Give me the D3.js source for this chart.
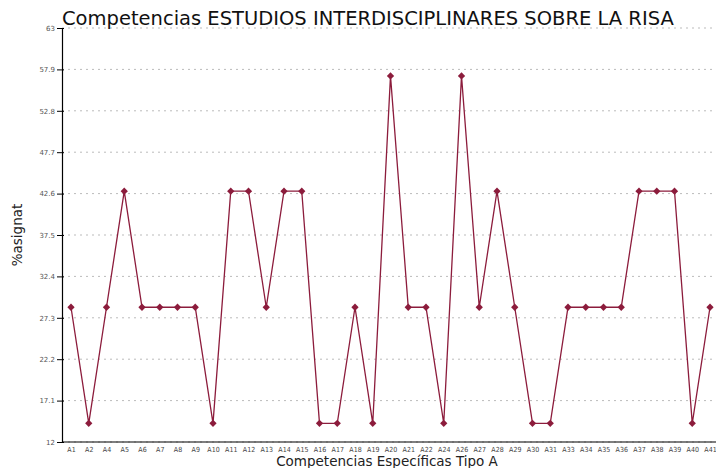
<!DOCTYPE html>
<html>
<head>
<meta charset="utf-8">
<script src="https://cdn.jsdelivr.net/npm/d3@7"></script>
<style>
  body { margin: 0; background: #fff; }
  svg { display: block; font-family: "DejaVu Sans", sans-serif; }
</style>
</head>
<body>
<div id="chart"></div>
<script>
// competencias (eje x)
var competencias = ["A1","A2","A4","A5","A6","A7","A8","A9","A10","A11","A12","A13","A14","A15",
  "A16","A17","A18","A19","A20","A21","A22","A24","A26","A27","A28","A29","A30","A31",
  "A33","A34","A35","A36","A37","A38","A39","A40","A41"];

// % asignaturas por competencia
var porcentajes = [28.6,14.3,28.6,42.9,28.6,28.6,28.6,28.6,14.3,42.9,42.9,28.6,42.9,42.9,
  14.3,14.3,28.6,14.3,57.1,28.6,28.6,14.3,57.1,28.6,42.9,28.6,14.3,14.3,
  28.6,28.6,28.6,28.6,42.9,42.9,42.9,14.3,28.6];

var yTicks = [12,17.1,22.2,27.3,32.4,37.5,42.6,47.7,52.8,57.9,63];

var width = 716, height = 468;
var margin = {top:28, right:0, bottom:26, left:62};
var color = "#8c1c3c";

var svg = d3.select("#chart").append("svg")
    .attr("width", width)
    .attr("height", height);

var x = d3.scalePoint()
    .domain(competencias)
    .range([71, 710]);

var y = d3.scaleLinear()
    .domain([12, 63])
    .range([height - margin.bottom, margin.top]);

// grid
svg.append("g")
  .selectAll("line")
  .data(yTicks)
  .enter().append("line")
    .attr("x1", margin.left)
    .attr("x2", width)
    .attr("y1", d => y(d))
    .attr("y2", d => y(d))
    .attr("stroke", "#bbb")
    .attr("stroke-width", 1)
    .attr("stroke-dasharray", "2,4");

// eje y
var yAxis = svg.append("g")
    .attr("transform", "translate(" + margin.left + ",0)")
    .call(d3.axisLeft(y).tickValues(yTicks).tickSize(5).tickFormat(d => d3.format("")(d)));
yAxis.select(".domain").attr("stroke", "#000").attr("stroke-width", 1.2);
yAxis.selectAll(".tick line").attr("stroke", "#000").attr("x2", 2).attr("x1", -5);
yAxis.selectAll(".tick text")
    .attr("x", -7)
    .attr("fill", "#555")
    .style("font-size", "7px")
    .style("font-family", "DejaVu Sans");

// eje x
var xAxis = svg.append("g")
    .attr("transform", "translate(0," + (height - margin.bottom) + ")")
    .call(d3.axisBottom(x).tickSize(0).tickPadding(5));
xAxis.select(".domain").attr("d", "M" + margin.left + ",0H" + width)
    .attr("stroke", "#000").attr("stroke-width", 1.2);
xAxis.selectAll(".tick text")
    .attr("fill", "#444")
    .style("font-size", "7px")
    .style("font-family", "DejaVu Sans Condensed");

// línea
var line = d3.line()
    .x((d, i) => x(competencias[i]))
    .y(d => y(d));

svg.append("path")
    .datum(porcentajes)
    .attr("fill", "none")
    .attr("stroke", color)
    .attr("stroke-width", 1.3)
    .attr("d", line);

svg.append("g")
  .selectAll("path")
  .data(porcentajes)
  .enter().append("path")
    .attr("d", d3.symbol().type(d3.symbolDiamond2).size(34))
    .attr("transform", (d, i) => "translate(" + x(competencias[i]) + "," + y(d) + ")")
    .attr("fill", color);

// títulos
svg.append("text")
    .attr("x", margin.left)
    .attr("y", 25)
    .style("font-size", "19.5px")
    .attr("fill", "#111")
    .text("Competencias ESTUDIOS INTERDISCIPLINARES SOBRE LA RISA");

svg.append("text")
    .attr("x", 387)
    .attr("y", 466)
    .attr("text-anchor", "middle")
    .style("font-size", "13.5px")
    .attr("fill", "#222")
    .text("Competencias Específicas Tipo A");

svg.append("text")
    .attr("transform", "translate(22," + y(37.5) + ") rotate(-90)")
    .attr("text-anchor", "middle")
    .style("font-size", "13.5px")
    .attr("fill", "#222")
    .text("%asignat");
</script>
</body>
</html>
